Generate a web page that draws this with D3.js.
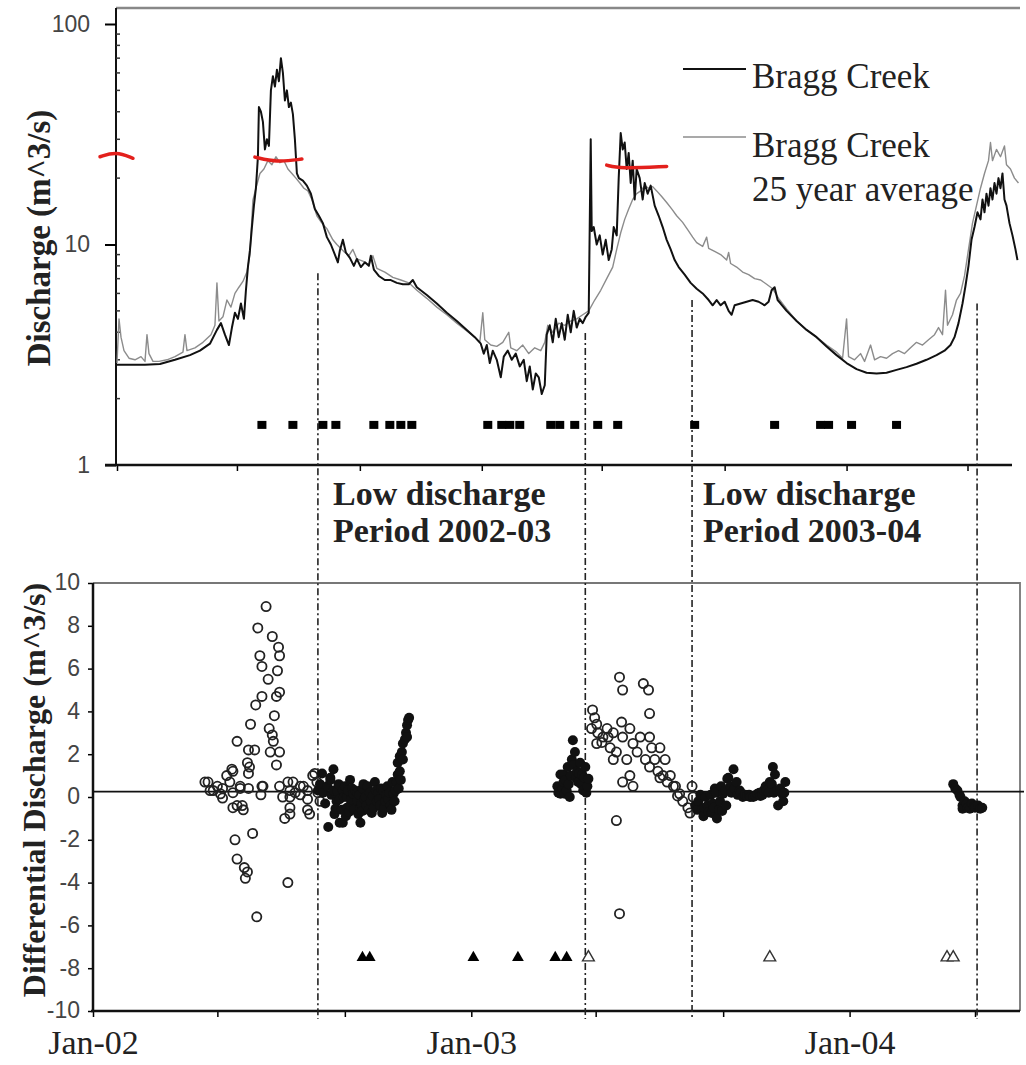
<!DOCTYPE html>
<html>
<head>
<meta charset="utf-8">
<script src="https://cdn.jsdelivr.net/npm/d3@7"></script>
<style>
  body { margin: 0; background: #fff; }
  .serif { font-family: "Liberation Serif", "Times New Roman", serif; fill: #222; }
  .num { font-family: "Liberation Sans", Arial, sans-serif; font-size: 23px; fill: #444; }
</style>
</head>
<body>
<div class="chart"></div>
<script>
// days counted from 1 Jan 2002
var braggCreek = [[0,2.85],[13,2.85],[28,2.85],[43,2.87],[58,3.0],[73,3.15],[83,3.3],[93,3.55],[100,4.1],[104,4.4],[108,3.9],[112,3.5],[115,4.2],[118,4.9],[121,4.6],[124,5.4],[127,4.6],[129,6.2],[131,7.9],[133,9.4],[135,12],[137,15],[139,18],[141,25],[142,42],[144,40],[146,36],[148,27],[150,30],[152,28],[154,50],[156,58],[158,52],[160,62],[162,55],[164,70],[166,60],[168,45],[170,50],[172,42],[174,44],[176,39],[178,30],[180,21],[182,20],[186,19.5],[190,18.5],[194,17],[198,14.5],[202,13.5],[206,12.5],[210,10.8],[214,10],[218,9.0],[221,8.3],[223,9.4],[226,10.5],[229,9.2],[233,8.7],[237,8.0],[240,8.6],[244,7.9],[248,8.3],[252,8.0],[254,8.9],[257,7.7],[262,7.2],[268,6.9],[274,6.9],[280,6.7],[286,6.6],[292,6.6],[296,6.9],[300,6.4],[310,5.9],[320,5.4],[330,4.9],[340,4.5],[350,4.1],[358,3.8],[364,3.55],[367,3.2],[370,3.5],[373,2.9],[376,3.3],[380,3.0],[384,2.5],[387,3.1],[391,3.3],[395,3.0],[399,3.2],[403,2.8],[407,3.0],[410,2.4],[413,2.8],[416,2.2],[419,2.6],[422,2.5],[425,2.1],[428,2.3],[430,3.9],[433,4.3],[436,3.6],[439,4.6],[442,3.8],[445,4.4],[448,3.7],[451,4.8],[454,4.0],[457,5.0],[460,4.2],[463,4.6],[466,4.4],[469,4.7],[472,4.9],[474,30],[475,11.5],[477,12],[480,10],[483,11],[486,9],[489,10.5],[492,8.5],[495,9.5],[497,12],[500,11],[502,20],[504,32],[506,27],[508,29],[510,22],[512,26],[514,19],[516,24],[518,16],[520,22],[523,20],[526,16],[528,19],[531,17],[534,18.5],[538,15],[542,13.5],[546,12],[550,10.5],[554,9.5],[558,8.5],[562,7.9],[568,7.3],[574,6.7],[580,6.3],[586,6.0],[592,5.6],[596,5.3],[600,5.6],[604,5.3],[608,5.5],[612,5.0],[615,4.8],[618,5.3],[624,5.4],[630,5.5],[636,5.6],[642,5.5],[648,5.3],[652,5.5],[655,6.2],[658,6.4],[661,5.6],[664,5.4],[670,5.0],[680,4.5],[690,4.1],[700,3.8],[710,3.45],[720,3.15],[730,2.9],[740,2.72],[750,2.62],[760,2.6],[770,2.62],[780,2.7],[790,2.78],[800,2.88],[810,3.0],[820,3.15],[828,3.3],[834,3.5],[838,3.8],[842,4.4],[846,5.4],[849,6.5],[852,8.0],[855,10.5],[858,12],[861,14],[864,13],[866,16],[868,14],[870,17],[872,15],[874,18],[876,16],[878,19],[880,17],[882,20],[884,18],[886,21],[888,16],[890,15],[893,12.5],[896,11],[899,9.5],[901,8.5]];

var braggAverage = [[0,2.9],[2,4.6],[4,3.8],[7,3.3],[12,3.05],[18,3.0],[24,3.1],[28,2.95],[30,3.9],[32,3.2],[36,2.95],[42,2.95],[50,3.0],[58,3.1],[66,3.25],[68,3.9],[70,3.3],[78,3.4],[86,3.6],[94,3.9],[98,4.3],[100,6.7],[102,4.5],[106,4.7],[110,5.6],[114,5.2],[118,6.0],[122,6.4],[126,6.8],[130,7.5],[133,9.0],[136,15.9],[139,18],[143,21],[147,22],[151,24],[155,23],[159,25],[163,23.5],[167,24],[171,22],[175,21],[179,20],[183,19],[187,18],[191,17.5],[195,16],[200,13.5],[205,12.5],[210,11.8],[216,10.5],[220,10],[224,9.6],[228,9.2],[232,8.9],[236,9.5],[240,8.6],[246,8.4],[252,8.1],[256,8.9],[260,7.8],[268,7.5],[276,7.1],[284,6.9],[292,6.7],[300,6.2],[310,5.7],[320,5.2],[330,4.8],[340,4.4],[350,4.05],[358,3.8],[363,3.6],[366,4.9],[368,3.7],[374,3.5],[380,3.45],[386,3.6],[392,4.0],[394,3.4],[400,3.3],[406,3.5],[412,3.2],[418,3.4],[424,3.3],[428,3.6],[431,4.3],[436,4.0],[442,4.4],[448,4.3],[454,4.5],[460,4.6],[466,4.8],[472,5.0],[478,5.6],[484,6.2],[490,7.0],[496,7.9],[500,9.5],[504,11.3],[508,13],[512,14.5],[516,16],[520,17],[524,17.5],[528,18.5],[532,18],[536,18.3],[540,17.5],[545,16.5],[550,15.5],[555,14.5],[560,13.5],[566,12.6],[572,11.5],[576,10.8],[580,10.2],[586,9.8],[590,10.8],[592,9.6],[598,9.3],[604,9.0],[610,8.5],[612,9.2],[614,8.2],[620,7.9],[626,7.5],[632,7.3],[638,7.0],[644,6.9],[650,6.6],[656,6.3],[662,5.7],[670,5.1],[680,4.5],[690,4.1],[700,3.8],[710,3.5],[720,3.25],[726,3.05],[730,4.6],[732,3.1],[738,3.0],[744,3.2],[748,2.95],[754,3.5],[758,3.0],[764,3.1],[770,3.05],[776,3.2],[782,3.3],[788,3.2],[794,3.4],[800,3.6],[806,3.5],[812,3.7],[818,3.9],[822,4.2],[826,3.9],[829,6.2],[831,4.3],[836,4.8],[840,5.6],[844,6.0],[848,7.2],[852,9.5],[856,12.5],[860,15],[864,18],[868,21],[872,24],[874,29],[876,24],[880,27],[884,25],[888,28],[890,23],[894,22],[898,20],[902,19]];

var sampleDays = [145,176,206,219,257,273,284,295,371,385,393,403,434,443,458,481,501,578,658,704,712,735,780];
var sampleQ = 1.52;

// hand drawn red marks on the upper panel
var redMarks = [
  [[-17,25.0],[-1,26.4],[16,24.6]],
  [[138,24.9],[160,23.6],[185,24.4]],
  [[490,22.9],[503,22.1],[550,22.6]]
];

var openDiff = [[167,8.9],[159,7.9],[173,7.5],[179,7.0],[180,6.6],[161,6.6],[163,6.1],[178,5.9],[169,5.5],[180,4.9],[177,4.7],[163,4.7],[157,4.3],[175,3.8],[152,3.4],[170,3.2],[173,2.9],[174,2.6],[139,2.6],[150,2.2],[156,2.2],[171,2.1],[180,2.1],[177,1.5],[149,1.6],[151,1.4],[150,1.1],[134,1.3],[111,0.7],[125,0.4],[116,0.3],[142,0.4],[135,0.2],[163,0.5],[162,0.1],[125,-0.05],[139,-0.4],[188,0.7],[190,0.3],[190,0.0],[200,0.5],[195,0.2],[207,0.3],[214,1.1],[216,0.7],[207,-0.1],[190,-0.5],[207,-0.6],[135,-0.5],[145,-0.6],[137,-2.0],[139,-2.9],[146,-3.3],[149,-3.5],[147,-3.8],[154,-1.7],[158,-5.6],[188,-4.0],[185,-1.0],[190,-0.8],[209,-0.8],[108,0.7],[113,0.3],[120,0.5],[123,0.15],[129,1.0],[132,0.7],[135,1.2],[142,0.5],[144,-0.4],[150,0.4],[164,0.5],[180,0.5],[183,0.0],[193,0.7],[200,0.1],[203,0.5],[212,1.0],[217,0.2],[219,-0.2],
  [482,4.07],[484,3.7],[486,3.4],[481,3.2],[487,3.0],[492,2.8],[491,2.55],[497,2.8],[499,2.3],[502,3.0],[505,2.1],[508,5.6],[511,5.0],[510,3.5],[511,2.8],[515,1.75],[518,3.2],[518,1.0],[521,2.5],[525,2.1],[528,2.8],[531,5.3],[536,5.0],[537,3.9],[537,2.8],[533,1.75],[537,1.4],[539,2.3],[542,1.75],[545,1.2],[547,0.9],[550,1.0],[554,0.7],[560,0.5],[564,0.05],[505,-1.1],[508,-5.45],[521,0.5],[511,0.7],[502,1.75],[496,3.2],[486,2.5],[547,2.3],[552,1.75],[557,1.0],[562,0.5],[566,0.15],[569,-0.2],[574,-0.5],[578,0.5],[579,0.0],[576,-0.75]];

var filledDiff = [[217,0.3],[219,0.6],[221,1.1],[222,0.2],[224,-0.3],[226,0.5],[227,-1.4],[229,0.9],[229,0.8],[230,0.1],[232,1.3],[232,0.3],[233,-0.8],[235,-0.2],[236,0.25],[234,-0.55],[237,0.6],[238,-1.2],[238,-0.1],[240,-0.6],[241,-1.2],[241,0.3],[242,0.0],[243,0.5],[244,-0.9],[245,0.0],[245,-0.5],[246,0.3],[247,-0.7],[248,-0.4],[248,0.8],[249,-0.1],[250,0.4],[251,0.15],[252,-0.6],[253,0.3],[255,-0.2],[255,0.2],[256,-0.8],[257,0.1],[258,-1.2],[258,-0.5],[259,-0.3],[260,-0.65],[260,0.4],[261,0.6],[262,-0.1],[263,0.0],[264,-0.4],[265,0.5],[266,-0.6],[267,0.2],[268,-0.2],[269,-0.75],[270,0.05],[271,-0.5],[272,0.7],[273,0.3],[274,-0.2],[275,0.15],[276,-0.1],[277,-0.4],[278,0.4],[279,-0.75],[280,0.3],[281,-0.5],[282,-0.2],[283,0.1],[284,0.5],[285,-0.1],[286,0.2],[287,-0.4],[288,-0.6],[289,0.7],[290,0.15],[291,-0.2],[292,0.3],[293,0.7],[294,1.05],[294,1.6],[295,0.4],[296,1.9],[296,1.2],[297,0.8],[298,2.1],[299,2.5],[299,1.75],[301,2.7],[302,3.0],[303,3.35],[303,2.8],[304,3.6],[305,3.7],
  [448,0.5],[449,0.2],[451,1.05],[451,0.15],[453,0.4],[454,0.7],[454,1.05],[455,0.15],[456,0.8],[457,0.3],[458,1.4],[459,0.6],[460,0.0],[461,1.0],[462,1.75],[463,2.65],[464,1.5],[465,2.1],[466,0.9],[467,1.2],[468,0.7],[469,1.1],[470,1.6],[471,0.6],[472,1.05],[473,0.3],[474,0.9],[475,1.4],[476,0.2],[477,0.5],[478,0.85],
  [581,-0.4],[583,-0.6],[584,-0.2],[586,0.1],[588,-0.55],[589,-0.9],[590,-0.5],[591,0.0],[593,-0.4],[594,-0.7],[596,0.1],[597,-0.75],[598,-0.3],[599,-0.5],[600,0.4],[601,0.2],[602,-1.0],[604,-0.6],[605,-0.2],[606,0.5],[607,-0.65],[608,0.15],[610,0.3],[611,-0.4],[612,0.85],[613,0.9],[615,0.5],[616,0.2],[618,1.3],[619,0.4],[621,0.7],[622,0.1],[624,0.3],[625,0.2],[627,0.0],[629,0.1],[631,0.05],[633,0.1],[634,0.0],[637,0.0],[639,0.05],[641,0.15],[643,0.2],[644,0.05],[646,0.1],[647,0.3],[649,0.5],[650,0.3],[652,0.2],[653,0.7],[655,0.6],[656,1.4],[657,0.2],[658,1.05],[660,0.3],[661,-0.4],[663,0.4],[665,0.15],[666,-0.2],[667,0.2],[668,0.7],
  [830,0.6],[832,0.4],[834,0.3],[836,0.1],[837,0.0],[839,-0.4],[839,-0.55],[841,-0.2],[843,-0.3],[844,-0.5],[846,-0.55],[848,-0.3],[850,-0.45],[851,-0.5],[854,-0.4],[856,-0.55],[858,-0.5]];

var triFilledDays = [260,267,367,410,446,457];
var triOpenDays = [478,653,824,830];
var triValue = -7.5;

var periodDays = [217,475,578,853];
var periodStartQ = [7.4,3.97,5.6,5.4];
var refLine = 0.25;

var qTicks = [1,10,100];
var diffTicks = [-10,-8,-6,-4,-2,0,2,4,6,8,10];

var width = 1026, height = 1065;
var t0 = new Date(2002, 0, 1), tEnd = new Date(2004, 4, 1);
function day(n) { return new Date(t0.getTime() + n * 864e5); }

var xUp = d3.scaleTime().domain([t0, tEnd]).range([117, 967.5]);
var yUp = d3.scaleLog().domain([1, 100]).range([465, 24]);
var xLo = d3.scaleTime().domain([t0, tEnd]).range([93, 975]);
var yLo = d3.scaleLinear().domain([-10, 10]).range([1011, 583]);

var svg = d3.select(".chart").append("svg")
  .attr("width", width)
  .attr("height", height)
  .style("background", "#fff");

// ---- upper panel frame
svg.append("line").attr("x1", 116).attr("x2", 1020).attr("y1", 8).attr("y2", 8)
  .attr("stroke", "#888").attr("stroke-width", 2.5);
svg.append("line").attr("x1", 116).attr("x2", 116).attr("y1", 8).attr("y2", 466)
  .attr("stroke", "#111").attr("stroke-width", 2);

var yAxisUp = svg.append("g")
  .attr("transform", "translate(116,0)")
  .call(d3.axisLeft(yUp).tickValues(qTicks).tickSize(11).tickPadding(15).tickFormat(function (d) { return String(d); }));
yAxisUp.select(".domain").remove();
yAxisUp.selectAll("line").attr("stroke-width", 2);
yAxisUp.selectAll("text").attr("class", "num");

svg.append("g").selectAll("line")
  .data(yUp.ticks().filter(function (d) { return Math.abs(Math.log10(d) % 1) > 1e-6; }))
  .enter().append("line")
  .attr("x1", 116).attr("x2", 120)
  .attr("y1", function (d) { return yUp(d); })
  .attr("y2", function (d) { return yUp(d); })
  .attr("stroke", "#333").attr("stroke-width", 1.5);

var xAxisUp = svg.append("g")
  .attr("transform", "translate(0,465)")
  .call(d3.axisBottom(xUp).ticks(d3.timeMonth.every(4)).tickSize(6).tickFormat(""));
xAxisUp.select(".domain").remove();
xAxisUp.selectAll("line").attr("stroke-width", 1.5);
svg.append("line").attr("x1", 105).attr("x2", 1012).attr("y1", 465).attr("y2", 465)
  .attr("stroke", "#111").attr("stroke-width", 2.5);

// ---- lower panel frame
svg.append("path")
  .attr("d", "M93,583H1020V1011")
  .attr("fill", "none").attr("stroke", "#777").attr("stroke-width", 1.8);

var yAxisLo = svg.append("g")
  .attr("transform", "translate(93,0)")
  .call(d3.axisLeft(yLo).tickValues(diffTicks).tickSize(5).tickPadding(8).tickFormat(function (d) { return String(d); }));
yAxisLo.select(".domain").remove();
yAxisLo.selectAll("line").attr("stroke-width", 1.5);
yAxisLo.selectAll("text").attr("class", "num").attr("dy", "0.3em");
svg.append("line").attr("x1", 93).attr("x2", 93).attr("y1", 583).attr("y2", 1012)
  .attr("stroke", "#111").attr("stroke-width", 2.5);

var fmtYear = d3.timeFormat("%y");
var xAxisLo = svg.append("g")
  .attr("transform", "translate(0,1011)")
  .call(d3.axisBottom(xLo).ticks(d3.timeMonth.every(4)).tickSize(6)
    .tickFormat(function (d) { return d.getMonth() === 0 ? "Jan-" + fmtYear(d) : ""; }));
xAxisLo.select(".domain").remove();
xAxisLo.selectAll("line").attr("stroke-width", 1.5);
xAxisLo.selectAll("text")
  .attr("class", "serif")
  .attr("y", 43).attr("dy", 0)
  .style("font-size", "34px");
svg.append("line").attr("x1", 91).attr("x2", 1020).attr("y1", 1011).attr("y2", 1011)
  .attr("stroke", "#111").attr("stroke-width", 2.5);

svg.append("line")
  .attr("x1", 93).attr("x2", 1024)
  .attr("y1", yLo(refLine)).attr("y2", yLo(refLine))
  .attr("stroke", "#111").attr("stroke-width", 1.6);

// ---- period boundaries (dash-dot)
svg.append("g").selectAll("line")
  .data(periodDays)
  .enter().append("line")
  .attr("x1", function (d) { return xLo(day(d)); })
  .attr("x2", function (d) { return xLo(day(d)); })
  .attr("y1", function (d, i) { return yUp(periodStartQ[i]); })
  .attr("y2", 1019)
  .attr("stroke", "#222").attr("stroke-width", 1.6)
  .attr("stroke-dasharray", "7,3,2,3");

// ---- discharge lines
var lineUp = d3.line()
  .x(function (d) { return xUp(day(d[0])); })
  .y(function (d) { return yUp(d[1]); });

svg.append("path")
  .datum(braggAverage)
  .attr("fill", "none").attr("stroke", "#8c8c8c").attr("stroke-width", 1.4)
  .attr("stroke-linejoin", "round")
  .attr("d", lineUp);

svg.append("path")
  .datum(braggCreek)
  .attr("fill", "none").attr("stroke", "#111").attr("stroke-width", 2)
  .attr("stroke-linejoin", "round")
  .attr("d", lineUp);

svg.append("g").selectAll("rect")
  .data(sampleDays)
  .enter().append("rect")
  .attr("x", function (d) { return xUp(day(d)) - 4.5; })
  .attr("y", yUp(sampleQ) - 4)
  .attr("width", 9).attr("height", 8)
  .attr("fill", "#000");

var redLine = d3.line().curve(d3.curveBasis)
  .x(function (d) { return xUp(day(d[0])); })
  .y(function (d) { return yUp(d[1]); });

svg.append("g").selectAll("path")
  .data(redMarks)
  .enter().append("path")
  .attr("fill", "none").attr("stroke", "#e3201c").attr("stroke-width", 3.5)
  .attr("stroke-linecap", "round")
  .attr("d", redLine);

// ---- legend
var legend = [
  { color: "#111", w: 2, y: 69, lines: ["Bragg Creek"], ty: 88 },
  { color: "#8c8c8c", w: 1.4, y: 137, lines: ["Bragg Creek", "25 year average"], ty: 157 }
];
legend.forEach(function (l) {
  svg.append("line").attr("x1", 683).attr("x2", 746).attr("y1", l.y).attr("y2", l.y)
    .attr("stroke", l.color).attr("stroke-width", l.w);
  l.lines.forEach(function (t, i) {
    svg.append("text").attr("class", "serif")
      .attr("x", 752).attr("y", l.ty + i * 44)
      .style("font-size", "35px")
      .text(t);
  });
});

// ---- differential discharge markers
svg.append("g").selectAll("circle")
  .data(openDiff)
  .enter().append("circle")
  .attr("cx", function (d) { return xLo(day(d[0])); })
  .attr("cy", function (d) { return yLo(d[1]); })
  .attr("r", 4.6)
  .attr("fill", "none").attr("stroke", "#222").attr("stroke-width", 1.8);

svg.append("g").selectAll("circle")
  .data(filledDiff)
  .enter().append("circle")
  .attr("cx", function (d) { return xLo(day(d[0])); })
  .attr("cy", function (d) { return yLo(d[1]); })
  .attr("r", 5)
  .attr("fill", "#111");

var tri = d3.symbol().type(d3.symbolTriangle).size(60);
svg.append("g").selectAll("path")
  .data(triFilledDays)
  .enter().append("path")
  .attr("transform", function (d) { return "translate(" + xLo(day(d)) + "," + yLo(triValue) + ")"; })
  .attr("d", tri)
  .attr("fill", "#000");
svg.append("g").selectAll("path")
  .data(triOpenDays)
  .enter().append("path")
  .attr("transform", function (d) { return "translate(" + xLo(day(d)) + "," + yLo(triValue) + ")"; })
  .attr("d", tri)
  .attr("fill", "#fff").attr("stroke", "#333").attr("stroke-width", 1.4);

// ---- period labels
var periodLabels = [["Low discharge", "Period 2002-03"], ["Low discharge", "Period 2003-04"]];
var labelX = [333, 703];
periodLabels.forEach(function (p, i) {
  p.forEach(function (t, j) {
    svg.append("text").attr("class", "serif")
      .attr("x", labelX[i]).attr("y", 505 + j * 37)
      .style("font-size", "34px").style("font-weight", "bold")
      .text(t);
  });
});

// ---- axis titles
svg.append("text").attr("class", "serif")
  .attr("transform", "translate(50,238)rotate(-90)")
  .attr("text-anchor", "middle")
  .style("font-size", "33px").style("font-weight", "bold")
  .text("Discharge (m^3/s)");

svg.append("text").attr("class", "serif")
  .attr("transform", "translate(45,790)rotate(-90)")
  .attr("text-anchor", "middle")
  .style("font-size", "32px").style("font-weight", "bold")
  .text("Differential Discharge (m^3/s)");
</script>
</body>
</html>
